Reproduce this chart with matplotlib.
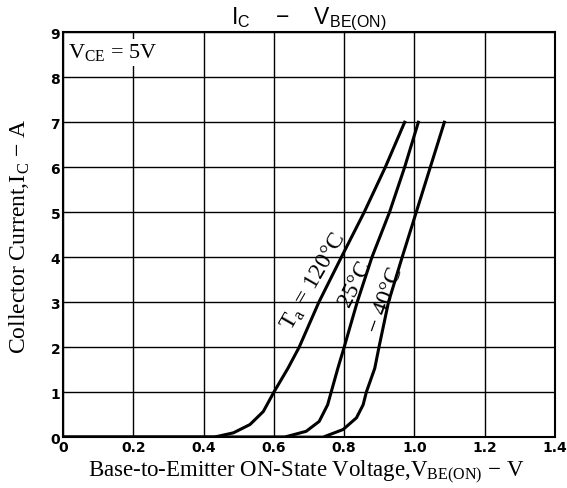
import matplotlib
matplotlib.use("Agg")
import matplotlib.pyplot as plt

# Ic - VBE(ON) curves
vbe_120 = [0, 0.43, 0.485, 0.532, 0.57, 0.60, 0.64, 0.672, 0.728, 0.792, 0.857, 0.917, 0.972]
ic_120 = [0, 0, 0.096, 0.28, 0.57, 1.0, 1.53, 2, 3, 4, 5, 6, 7]

vbe_25 = [0, 0.63, 0.692, 0.729, 0.753, 0.763, 0.782, 0.80, 0.837, 0.879, 0.929, 0.972, 1.011]
ic_25 = [0, 0, 0.13, 0.35, 0.72, 1.0, 1.53, 2, 3, 4, 5, 6, 7]

vbe_m40 = [0, 0.74, 0.797, 0.835, 0.854, 0.863, 0.887, 0.899, 0.926, 0.965, 1.005, 1.045, 1.085]
ic_m40 = [0, 0, 0.17, 0.43, 0.72, 1.0, 1.53, 2, 3, 4, 5, 6, 7]

x_ticks = [0, 0.2, 0.4, 0.6, 0.8, 1.0, 1.2, 1.4]
x_tick_labels = ["0", "0.2", "0.4", "0.6", "0.8", "1.0", "1.2", "1.4"]
y_ticks = [0, 1, 2, 3, 4, 5, 6, 7, 8, 9]

plt.rcParams["mathtext.fontset"] = "custom"
plt.rcParams["mathtext.rm"] = "Liberation Serif"
plt.rcParams["mathtext.sf"] = "Liberation Sans"

fig = plt.figure(figsize=(5.67, 4.89), dpi=100)
ax = fig.add_axes([0.111, 0.104, 0.868, 0.828])

for v, i in [(vbe_120, ic_120), (vbe_25, ic_25), (vbe_m40, ic_m40)]:
    ax.plot(v, i, color="black", linewidth=2.2, solid_joinstyle="round", zorder=3)

ax.set_xlim(0, 1.4)
ax.set_ylim(0, 9)
ax.set_xticks(x_ticks)
ax.set_xticklabels(x_tick_labels)
ax.set_yticks(y_ticks)
ax.grid(True, color="black", linewidth=1.0)
ax.tick_params(length=0, pad=2)
for lab in ax.get_xticklabels() + ax.get_yticklabels():
    lab.set_fontfamily("DejaVu Sans")
    lab.set_fontweight("bold")
    lab.set_fontsize(10)
for sp in ax.spines.values():
    sp.set_linewidth(1.5)

serif = "Liberation Serif"
ax.set_xlabel(r"Base-to-Emitter ON-State Voltage,V$_\mathrm{BE(ON)}$ − V",
              fontfamily=serif, fontsize=16.5)
ax.xaxis.set_label_coords(0.495, -0.049)
ax.xaxis.label.set_va("top")
ax.set_ylabel(r"Collector Current,I$_\mathrm{C}$ − A",
              fontfamily=serif, fontsize=17)
ax.yaxis.set_label_coords(-0.062, 0.5)
ax.set_title(r"$\mathsf{I_C}$    −    $\mathsf{V_{BE(ON)}}$", fontsize=16.5, pad=6,
             fontfamily="Liberation Sans")

ax.text(0.015, 8.8, r"V$_\mathrm{CE}$ = 5V", fontfamily=serif, fontsize=16,
        va="top", ha="left", zorder=4,
        bbox=dict(facecolor="white", edgecolor="none", pad=2))

ax.text(0.715, 3.47, r"T$_\mathrm{a}$ = 120°C", fontfamily=serif, fontsize=17,
        rotation=60, ha="center", va="center", zorder=4)
ax.text(0.832, 3.42, "25°C", fontfamily=serif, fontsize=17,
        rotation=63, ha="center", va="center", zorder=4)
ax.text(0.917, 3.07, "− 40°C", fontfamily=serif, fontsize=17,
        rotation=70, ha="center", va="center", zorder=4)

fig.savefig("out.png", dpi=100, facecolor="white")
